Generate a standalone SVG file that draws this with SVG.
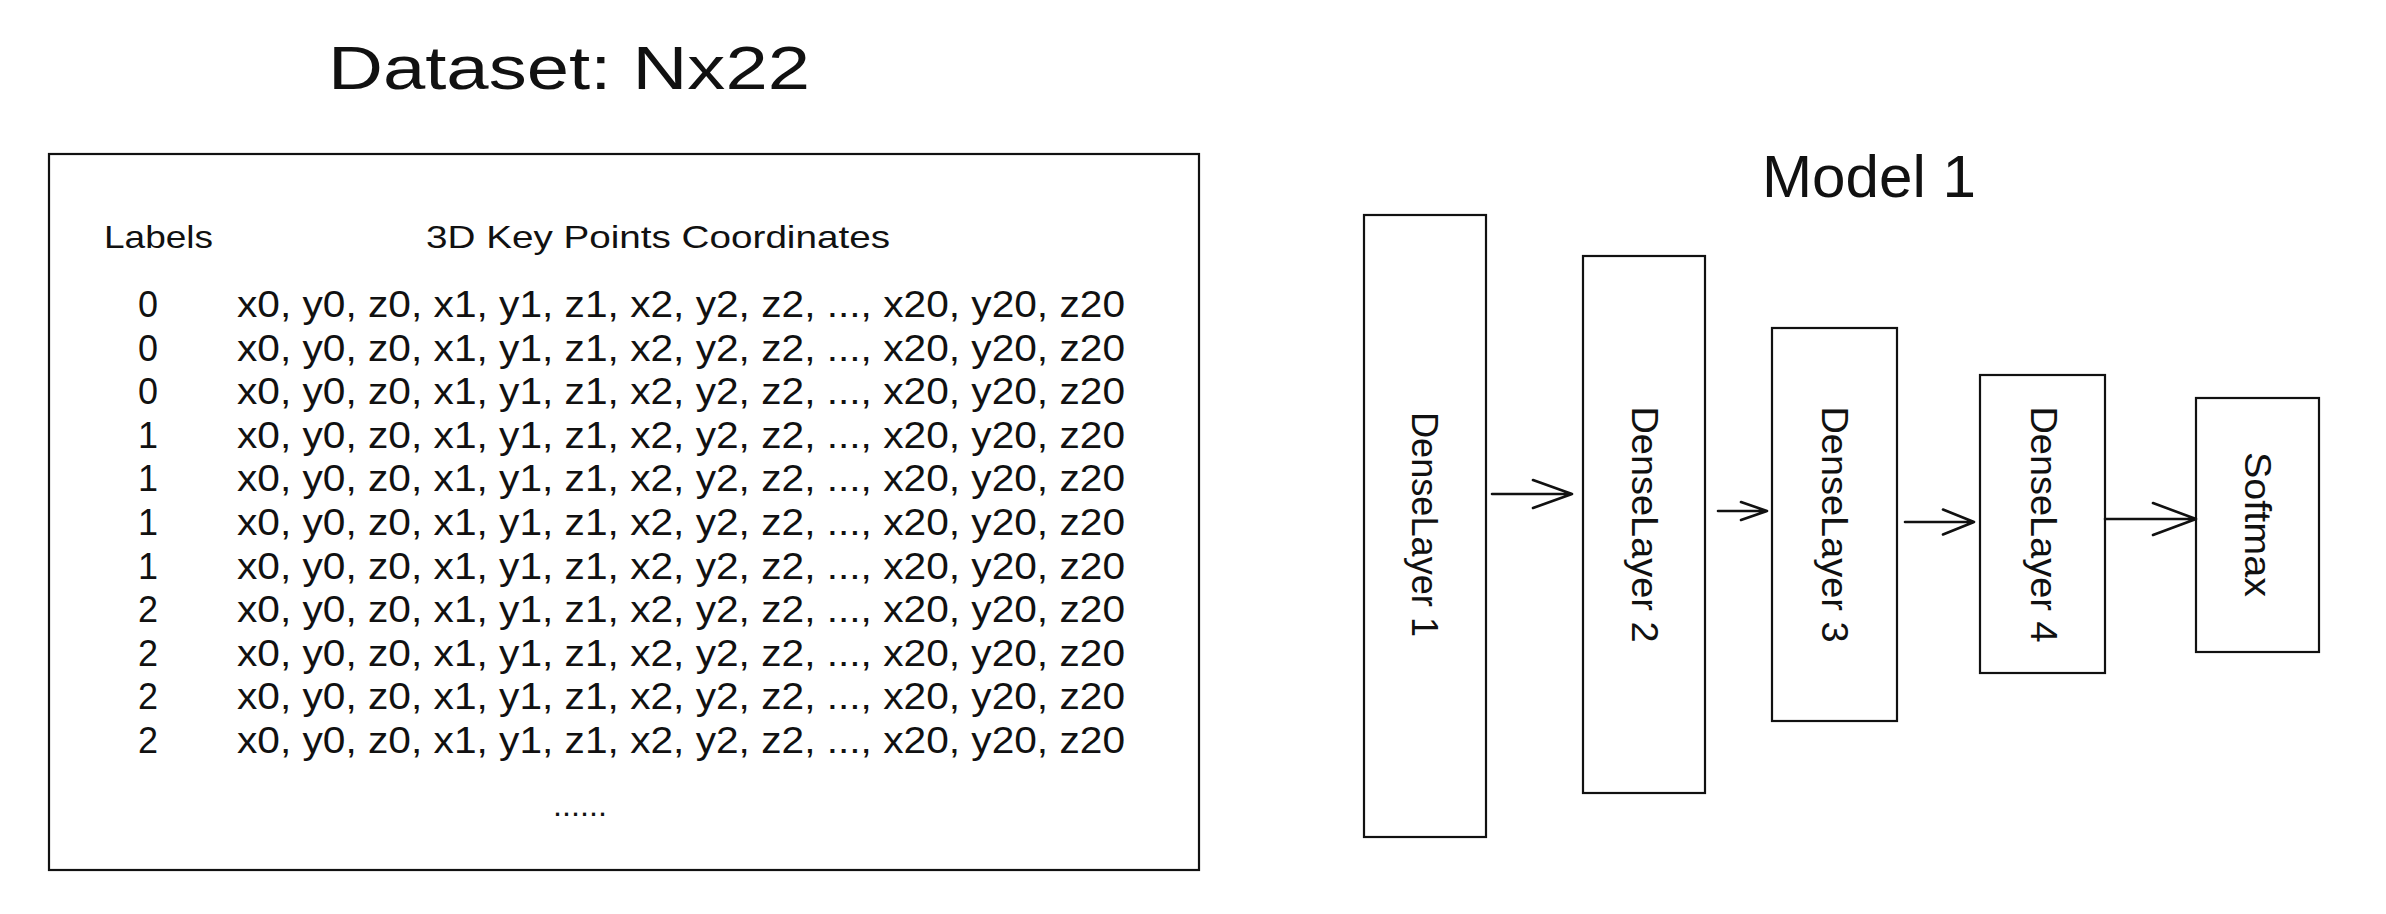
<svg xmlns="http://www.w3.org/2000/svg" width="2386" height="914" viewBox="0 0 2386 914">
<style>
.box{fill:#fff;stroke:#111;stroke-width:2.2}
.t{font-family:"Liberation Sans",Arial,sans-serif;fill:#111}
.title{font-size:62px}
.hdr{font-size:32px}
.row{font-size:36px}
.lbl{font-size:36px;text-anchor:middle}
.vt{font-size:36px;text-anchor:middle;dominant-baseline:central}
.arr{fill:none;stroke:#111;stroke-width:2.6;stroke-linecap:round;stroke-linejoin:round}
</style>
<rect width="2386" height="914" fill="#fff"/>
<g id="dataset-title"><text class="t title" x="328" y="89" textLength="482" lengthAdjust="spacingAndGlyphs">Dataset: Nx22</text></g>
<g id="dataset">
<rect class="box" x="49" y="154" width="1150" height="716"/>
<text class="t hdr" x="104" y="248" textLength="109" lengthAdjust="spacingAndGlyphs">Labels</text>
<text class="t hdr" x="426" y="248" textLength="464" lengthAdjust="spacingAndGlyphs">3D Key Points Coordinates</text>
<g class="t">
<text class="lbl" x="148" y="317">0</text>
<text class="lbl" x="148" y="360.6">0</text>
<text class="lbl" x="148" y="404.2">0</text>
<text class="lbl" x="148" y="447.8">1</text>
<text class="lbl" x="148" y="491.4">1</text>
<text class="lbl" x="148" y="535">1</text>
<text class="lbl" x="148" y="578.6">1</text>
<text class="lbl" x="148" y="622.2">2</text>
<text class="lbl" x="148" y="665.8">2</text>
<text class="lbl" x="148" y="709.4">2</text>
<text class="lbl" x="148" y="753">2</text>
</g>
<g class="t row">
<text x="237" y="317" textLength="888" lengthAdjust="spacingAndGlyphs">x0, y0, z0, x1, y1, z1, x2, y2, z2, ..., x20, y20, z20</text>
<text x="237" y="360.6" textLength="888" lengthAdjust="spacingAndGlyphs">x0, y0, z0, x1, y1, z1, x2, y2, z2, ..., x20, y20, z20</text>
<text x="237" y="404.2" textLength="888" lengthAdjust="spacingAndGlyphs">x0, y0, z0, x1, y1, z1, x2, y2, z2, ..., x20, y20, z20</text>
<text x="237" y="447.8" textLength="888" lengthAdjust="spacingAndGlyphs">x0, y0, z0, x1, y1, z1, x2, y2, z2, ..., x20, y20, z20</text>
<text x="237" y="491.4" textLength="888" lengthAdjust="spacingAndGlyphs">x0, y0, z0, x1, y1, z1, x2, y2, z2, ..., x20, y20, z20</text>
<text x="237" y="535" textLength="888" lengthAdjust="spacingAndGlyphs">x0, y0, z0, x1, y1, z1, x2, y2, z2, ..., x20, y20, z20</text>
<text x="237" y="578.6" textLength="888" lengthAdjust="spacingAndGlyphs">x0, y0, z0, x1, y1, z1, x2, y2, z2, ..., x20, y20, z20</text>
<text x="237" y="622.2" textLength="888" lengthAdjust="spacingAndGlyphs">x0, y0, z0, x1, y1, z1, x2, y2, z2, ..., x20, y20, z20</text>
<text x="237" y="665.8" textLength="888" lengthAdjust="spacingAndGlyphs">x0, y0, z0, x1, y1, z1, x2, y2, z2, ..., x20, y20, z20</text>
<text x="237" y="709.4" textLength="888" lengthAdjust="spacingAndGlyphs">x0, y0, z0, x1, y1, z1, x2, y2, z2, ..., x20, y20, z20</text>
<text x="237" y="753" textLength="888" lengthAdjust="spacingAndGlyphs">x0, y0, z0, x1, y1, z1, x2, y2, z2, ..., x20, y20, z20</text>
</g>
<text class="t hdr" x="553" y="816" textLength="54" lengthAdjust="spacingAndGlyphs">......</text>
</g>
<g id="model-title"><text class="t title" x="1869" y="197" text-anchor="middle" style="font-size:60px" textLength="214" lengthAdjust="spacingAndGlyphs">Model 1</text></g>
<g id="dense1">
<rect class="box" x="1364" y="215" width="122" height="622"/>
<text class="t vt" x="1424" y="524.5" transform="rotate(90 1424 524.5)" textLength="225" lengthAdjust="spacingAndGlyphs">DenseLayer 1</text>
</g>
<g id="dense2">
<rect class="box" x="1583" y="256" width="122" height="537"/>
<text class="t vt" x="1644" y="524.5" transform="rotate(90 1644 524.5)" textLength="236" lengthAdjust="spacingAndGlyphs">DenseLayer 2</text>
</g>
<g id="dense3">
<rect class="box" x="1772" y="328" width="125" height="393"/>
<text class="t vt" x="1834.5" y="524.5" transform="rotate(90 1834.5 524.5)" textLength="236" lengthAdjust="spacingAndGlyphs">DenseLayer 3</text>
</g>
<g id="dense4">
<rect class="box" x="1980" y="375" width="125" height="298"/>
<text class="t vt" x="2043" y="524.5" transform="rotate(90 2043 524.5)" textLength="236" lengthAdjust="spacingAndGlyphs">DenseLayer 4</text>
</g>
<g id="softmax">
<rect class="box" x="2196" y="398" width="123" height="254"/>
<text class="t vt" x="2257.5" y="524.5" transform="rotate(90 2257.5 524.5)" textLength="145" lengthAdjust="spacingAndGlyphs">Softmax</text>
</g>
<g id="connectors">
<path class="arr" d="M1492 494 L1572 494 M1533 480 L1572 494 L1533 508"/>
<path class="arr" d="M1718 511 L1767 511 M1741 502 L1767 511 L1741 520"/>
<path class="arr" d="M1905 522 L1974 522 M1943 509.5 L1974 522 L1943 534.5"/>
<path class="arr" d="M2105 519 L2196 519 M2153 503 L2196 519 L2153 535"/>
</g>
</svg>
